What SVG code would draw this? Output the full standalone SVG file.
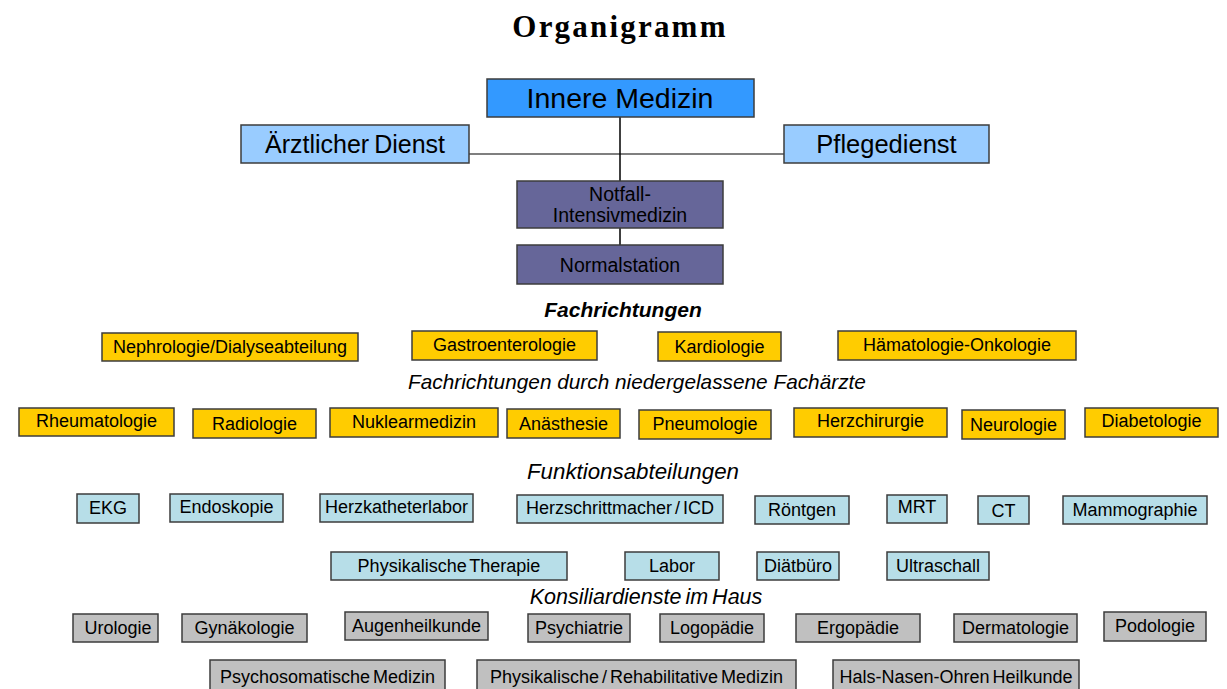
<svg xmlns="http://www.w3.org/2000/svg" width="1227" height="689" viewBox="0 0 1227 689">
<style>
text{font-family:"Liberation Sans",Arial,sans-serif;fill:#000;text-anchor:middle}
.title{font-family:"Liberation Serif","Times New Roman",serif;font-weight:bold;font-size:31px;letter-spacing:2.2px}
.b{stroke:#3c3c3c;stroke-width:1.5}
.top{fill:#3399ff}
.lb{fill:#99ccff}
.pu{fill:#666699}
.ye{fill:#ffcc00}
.cy{fill:#b7dee8}
.gr{fill:#c0c0c0}
.t{font-size:18px}
.tp{font-size:19.5px}
.h{font-style:italic}
.hb{font-size:21px;font-style:italic;font-weight:bold}
</style>
<rect x="0" y="0" width="1227" height="689" fill="#fff"/>
<text class="title" x="620" y="37">Organigramm</text>
<g id="connectors" fill="none">
<line x1="469" y1="154" x2="784" y2="154" stroke="#7f7f7f" stroke-width="2"/>
<line x1="620" y1="117" x2="620" y2="181" stroke="#000" stroke-width="1.5"/>
<line x1="620" y1="228" x2="620" y2="245" stroke="#000" stroke-width="1.5"/>
</g>
<g id="innere-medizin"><rect class="b top" x="487" y="79" width="267" height="38"/><text x="620" y="108" font-size="28.5">Innere Medizin</text></g>
<g id="aerztlicher-dienst"><rect class="b lb" x="241" y="125" width="228" height="38"/><text x="355" y="153" font-size="25" word-spacing="-2">Ärztlicher Dienst</text></g>
<g id="pflegedienst"><rect class="b lb" x="784" y="125" width="205" height="38"/><text x="886.5" y="153" font-size="25.5">Pflegedienst</text></g>
<g id="notfall"><rect class="b pu" x="517" y="181" width="206" height="47"/><text class="tp" x="620" y="201">Notfall-</text><text class="tp" x="620" y="222">Intensivmedizin</text></g>
<g id="normalstation"><rect class="b pu" x="517" y="245" width="206" height="39"/><text class="tp" x="620" y="272">Normalstation</text></g>

<text class="hb" x="623" y="317">Fachrichtungen</text>
<g id="nephrologie"><rect class="b ye" x="102" y="333" width="256" height="28"/><text class="t" x="230" y="353">Nephrologie/Dialyseabteilung</text></g>
<g id="gastroenterologie"><rect class="b ye" x="412" y="331" width="185" height="29"/><text class="t" x="504.5" y="351">Gastroenterologie</text></g>
<g id="kardiologie"><rect class="b ye" x="658" y="332" width="123" height="29"/><text class="t" x="719.5" y="353">Kardiologie</text></g>
<g id="haematologie"><rect class="b ye" x="838" y="331" width="238" height="29"/><text class="t" x="957" y="351">Hämatologie-Onkologie</text></g>

<text class="h" x="637" y="389" font-size="20.8">Fachrichtungen durch niedergelassene Fachärzte</text>
<g id="rheumatologie"><rect class="b ye" x="19" y="408" width="155" height="28"/><text class="t" x="96.5" y="427">Rheumatologie</text></g>
<g id="radiologie"><rect class="b ye" x="193" y="409" width="123" height="29"/><text class="t" x="254.5" y="430">Radiologie</text></g>
<g id="nuklearmedizin"><rect class="b ye" x="330" y="408" width="168" height="29"/><text class="t" x="414" y="428">Nuklearmedizin</text></g>
<g id="anaesthesie"><rect class="b ye" x="507" y="409" width="113" height="29"/><text class="t" x="563.5" y="430">Anästhesie</text></g>
<g id="pneumologie"><rect class="b ye" x="639" y="410" width="132" height="29"/><text class="t" x="705" y="430">Pneumologie</text></g>
<g id="herzchirurgie"><rect class="b ye" x="794" y="408" width="153" height="29"/><text class="t" x="870.5" y="427">Herzchirurgie</text></g>
<g id="neurologie"><rect class="b ye" x="962" y="410" width="103" height="29"/><text class="t" x="1013.5" y="431">Neurologie</text></g>
<g id="diabetologie"><rect class="b ye" x="1085" y="408" width="133" height="29"/><text class="t" x="1151.5" y="427">Diabetologie</text></g>

<text class="h" x="633" y="479" font-size="22.3">Funktionsabteilungen</text>
<g id="ekg"><rect class="b cy" x="77" y="494" width="62" height="29"/><text class="t" x="108" y="514">EKG</text></g>
<g id="endoskopie"><rect class="b cy" x="170" y="494" width="113" height="28"/><text class="t" x="226.5" y="513">Endoskopie</text></g>
<g id="herzkatheterlabor"><rect class="b cy" x="320" y="494" width="153" height="28"/><text class="t" x="396.5" y="513">Herzkatheterlabor</text></g>
<g id="herzschrittmacher"><rect class="b cy" x="517" y="495" width="206" height="28"/><text class="t" x="620" y="514" word-spacing="-2">Herzschrittmacher / ICD</text></g>
<g id="roentgen"><rect class="b cy" x="755" y="496" width="94" height="28"/><text class="t" x="802" y="516">Röntgen</text></g>
<g id="mrt"><rect class="b cy" x="887" y="495" width="60" height="28"/><text class="t" x="917" y="513">MRT</text></g>
<g id="ct"><rect class="b cy" x="978" y="496" width="51" height="28"/><text class="t" x="1003.5" y="517">CT</text></g>
<g id="mammographie"><rect class="b cy" x="1063" y="496" width="144" height="28"/><text class="t" x="1135" y="516">Mammographie</text></g>
<g id="physikalische-therapie"><rect class="b cy" x="331" y="552" width="236" height="28"/><text class="t" x="449" y="572" word-spacing="-2">Physikalische Therapie</text></g>
<g id="labor"><rect class="b cy" x="625" y="552" width="94" height="28"/><text class="t" x="672" y="572">Labor</text></g>
<g id="diaetbuero"><rect class="b cy" x="757" y="552" width="82" height="28"/><text class="t" x="798" y="572">Diätbüro</text></g>
<g id="ultraschall"><rect class="b cy" x="887" y="552" width="102" height="28"/><text class="t" x="938" y="572">Ultraschall</text></g>

<text class="h" x="646" y="604" font-size="21.5" word-spacing="-2">Konsiliardienste im Haus</text>
<g id="urologie"><rect class="b gr" x="73" y="614" width="85" height="28"/><text class="t" x="118" y="634">Urologie</text></g>
<g id="gynaekologie"><rect class="b gr" x="182" y="614" width="125" height="28"/><text class="t" x="244.5" y="634">Gynäkologie</text></g>
<g id="augenheilkunde"><rect class="b gr" x="345" y="612" width="143" height="28"/><text class="t" x="416.5" y="632">Augenheilkunde</text></g>
<g id="psychiatrie"><rect class="b gr" x="528" y="614" width="102" height="28"/><text class="t" x="579" y="634">Psychiatrie</text></g>
<g id="logopaedie"><rect class="b gr" x="660" y="614" width="104" height="28"/><text class="t" x="712" y="634">Logopädie</text></g>
<g id="ergopaedie"><rect class="b gr" x="796" y="614" width="124" height="28"/><text class="t" x="858" y="634">Ergopädie</text></g>
<g id="dermatologie"><rect class="b gr" x="954" y="614" width="123" height="28"/><text class="t" x="1015.5" y="634">Dermatologie</text></g>
<g id="podologie"><rect class="b gr" x="1104" y="612" width="102" height="29"/><text class="t" x="1155" y="632">Podologie</text></g>
<g id="psychosomatische-medizin"><rect class="b gr" x="210" y="660" width="235" height="32"/><text class="t" x="327.5" y="683" word-spacing="-2">Psychosomatische Medizin</text></g>
<g id="physikalische-reha"><rect class="b gr" x="477" y="660" width="319" height="32"/><text class="t" x="636.5" y="683" word-spacing="-2">Physikalische / Rehabilitative Medizin</text></g>
<g id="hno"><rect class="b gr" x="833" y="660" width="246" height="32"/><text class="t" x="956" y="683" word-spacing="-2">Hals-Nasen-Ohren Heilkunde</text></g>
</svg>
